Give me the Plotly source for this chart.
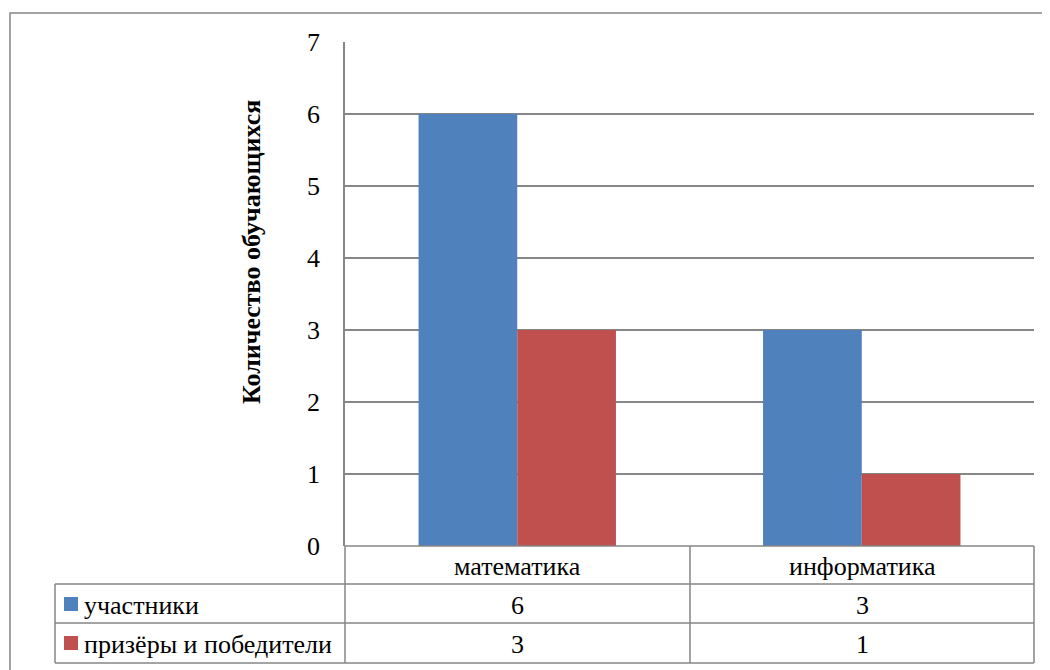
import plotly.graph_objects as go

# ---- data ----
categories = ["математика", "информатика"]
series_names = ["участники", "призёры и победители"]
participants = [6, 3]
winners = [3, 1]
y_ticks = [0, 1, 2, 3, 4, 5, 6, 7]
y_title = "Количество обучающихся"

# ---- style ----
OFF = 8  # browser default body margin
W, H = 1050 - OFF, 670 - OFF
L, R, T, B = 345, 1034, 42, 546  # plot area in window pixels
BLUE = "#4F81BD"
RED = "#C0504D"
GRID = "#868686"
FONT = "Liberation Serif, Times New Roman, serif"


def px(x):
    return (x - L) / (R - L)


def py(y):
    return (B - y) / (B - T)


fig = go.Figure()
fig.add_trace(go.Bar(x=categories, y=participants, name=series_names[0],
                     marker=dict(color=BLUE, line=dict(width=0))))
fig.add_trace(go.Bar(x=categories, y=winners, name=series_names[1],
                     marker=dict(color=RED, line=dict(width=0))))

shapes = []


def line(x0, y0, x1, y1, w=1.5):
    shapes.append(dict(type="line", xref="paper", yref="paper",
                       x0=px(x0), y0=py(y0), x1=px(x1), y1=py(y1),
                       line=dict(color=GRID, width=w), layer="above"))


# outer chart border
shapes.append(dict(type="rect", xref="paper", yref="paper",
                   x0=px(10), y0=py(13), x1=px(1070), y1=py(690),
                   line=dict(color=GRID, width=1.5), layer="below"))

# data table grid
rows_y = [546, 584, 623, 663]
line(345, 546, 1034, 546)
for yy in rows_y[1:]:
    line(55, yy, 1034, yy)
line(55, 584, 55, 663)
line(345, 546, 345, 663)
line(690, 546, 690, 663)
line(1034, 546, 1034, 663)

TXT = dict(family=FONT, size=26, color="black")
annotations = []
col_centers = [517.5, 862]
row_centers = [566, 605, 644]
for i, c in enumerate(categories):
    annotations.append(dict(text=c, x=px(col_centers[i]), y=py(row_centers[0]),
                            xref="paper", yref="paper", showarrow=False,
                            xanchor="center", yanchor="middle", font=TXT))
series_vals = [participants, winners]
series_colors = [BLUE, RED]
for r, (name, vals, col) in enumerate(zip(series_names, series_vals, series_colors)):
    yc = row_centers[r + 1]
    shapes.append(dict(type="rect", xref="paper", yref="paper",
                       x0=px(64), x1=px(78), y0=py(yc - 8), y1=py(yc + 6),
                       fillcolor=col, line=dict(width=0), layer="above"))
    annotations.append(dict(text=name, x=px(82), y=py(yc),
                            xref="paper", yref="paper", showarrow=False,
                            xanchor="left", yanchor="middle", font=TXT))
    for i, v in enumerate(vals):
        annotations.append(dict(text=str(v), x=px(col_centers[i]), y=py(yc),
                                xref="paper", yref="paper", showarrow=False,
                                xanchor="center", yanchor="middle", font=TXT))

annotations.append(dict(text="<b>" + y_title + "</b>", x=px(252), y=py(252),
                        xref="paper", yref="paper", showarrow=False,
                        textangle=-90, xanchor="center", yanchor="middle",
                        font=dict(family=FONT, size=26, color="black")))

fig.update_layout(
    width=W, height=H,
    margin=dict(l=L - OFF, r=W - (R - OFF), t=T - OFF, b=H - (B - OFF), pad=0),
    paper_bgcolor="white", plot_bgcolor="white",
    barmode="group", bargap=0.427, bargroupgap=0,
    showlegend=False,
    font=dict(family=FONT, color="black"),
    xaxis=dict(showticklabels=False, showgrid=False, showline=False,
               zeroline=False, ticks=""),
    yaxis=dict(range=[0, 7], tickvals=y_ticks, showgrid=True, gridcolor=GRID,
               gridwidth=1.5, zeroline=False, showline=True, linecolor=GRID,
               linewidth=1.5, ticks="", ticklabelstandoff=18,
               tickfont=dict(family=FONT, size=26, color="black")),
    shapes=shapes,
    annotations=annotations,
)

fig.write_html("out.html")
